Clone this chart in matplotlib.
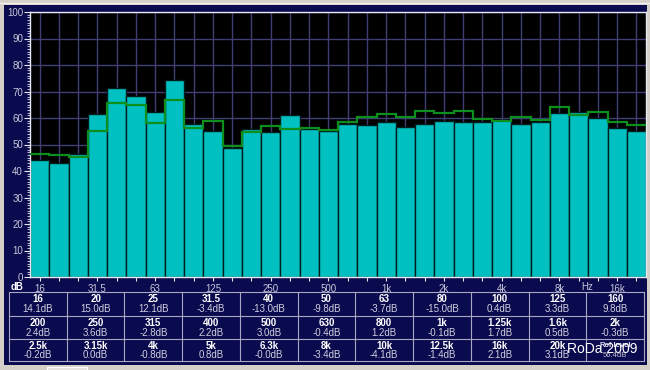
import matplotlib
matplotlib.use('Agg')
import matplotlib.pyplot as plt
import numpy as np
from matplotlib.patches import Rectangle

# ---------------- data ----------------
bands = ['16', '20', '25', '31.5', '40', '50', '63', '80', '100', '125', '160',
         '200', '250', '315', '400', '500', '630', '800', '1k', '1.25k', '1.6k', '2k',
         '2.5k', '3.15k', '4k', '5k', '6.3k', '8k', '10k', '12.5k', '16k', '20k']
level = [44.2, 43.0, 46.3, 61.6, 71.4, 68.3, 62.1, 74.2, 57.7, 55.1, 48.8,
         56.0, 54.7, 61.0, 55.9, 55.0, 57.9, 57.3, 58.6, 56.7, 57.9, 58.9,
         58.6, 58.4, 59.1, 57.6, 58.5, 61.7, 62.3, 60.0, 56.4, 55.2]
target = [46.3, 45.9, 45.2, 55.2, 65.8, 64.8, 58.2, 66.8, 56.3, 59.0, 49.4,
          54.8, 56.8, 55.7, 56.1, 55.3, 58.4, 60.5, 61.5, 60.3, 62.6, 62.0,
          62.8, 59.6, 59.0, 60.4, 59.2, 64.0, 61.1, 62.1, 58.4, 57.2]
eq_db = [14.1, 15.0, 12.1, -3.4, -13.0, -9.8, -3.7, -15.0, 0.4, 3.3, 9.8,
         2.4, 3.6, -2.8, 2.2, 3.0, -0.4, 1.2, -0.1, 1.7, 0.5, -0.3,
         -0.2, 0.0, -0.8, 0.8, -0.0, -3.4, -4.1, -1.4, 2.1, 3.1]
octave_labels = ['16', '31.5', '63', '125', '250', '500', '1k', '2k', '4k', '8k', '16k']
ref_level = 56.4
y_ticks = [0, 10, 20, 30, 40, 50, 60, 70, 80, 90, 100]

# ---------------- figure ----------------
W, H = 650, 370
fig = plt.figure(figsize=(6.5, 3.7), dpi=100, facecolor='#D4D0C8')
FONT = 'Liberation Sans'

bg = fig.add_axes([0, 0, 1, 1])
bg.set_xlim(0, W)
bg.set_ylim(H, 0)
bg.axis('off')
bg.add_patch(Rectangle((4, 5), 643, 360, facecolor='#0A0A4E', edgecolor='none'))
bg.plot([0, W], [2.5, 2.5], color='#F4F2EE', lw=1)
bg.add_patch(Rectangle((47, 366.5), 40, 5, facecolor='#E6E4DE', edgecolor='#FFFFFF', lw=0.8))

ax = fig.add_axes([30 / W, (H - 277) / H, (646 - 30) / W, (277 - 12) / H])
ax.set_facecolor('#000000')
x = np.arange(len(bands))
ax.bar(x, level, width=1.0, color='#00C0C2', edgecolor='#041e1e', linewidth=1.0, zorder=2)
ax.stairs(target, np.arange(len(bands) + 1) - 0.5, color='#0C8F1C', lw=1.6,
          baseline=None, zorder=3)
ax.set_xlim(-0.5, len(bands) - 0.5)
ax.set_ylim(0, 100)

ax.set_xticks(x)
ax.set_xticklabels([b if b in octave_labels else '' for b in bands])
ax.set_yticks(y_ticks)
ax.set_yticks(np.arange(0, 101, 1), minor=True)
ax.set_axisbelow(True)
ax.grid(True, which='major', color='#3E3E74', lw=1.0)
ax.tick_params(axis='x', which='major', direction='out', length=3, width=0.8,
               color='#E8E8F0', labelcolor='#C8C8DC', labelsize=7, pad=2)
ax.tick_params(axis='y', which='major', direction='out', length=4, width=0.8,
               color='#E8E8F0', labelcolor='#C8C8DC', labelsize=7, pad=1)
ax.tick_params(axis='y', which='minor', direction='out', length=2, width=0.6,
               color='#D8D8E8')
ax.tick_params(axis='x', which='minor', bottom=False)
for lab in ax.get_xticklabels() + ax.get_yticklabels():
    lab.set_fontfamily(FONT)
for s in ax.spines.values():
    s.set_color('#E8E8F4')
    s.set_linewidth(1.0)

bg.text(17, 287, 'dB', color='white', fontsize=7, fontweight='bold',
        ha='center', va='center', family=FONT)
bg.text(587, 286.5, 'Hz', color='#C8C8DC', fontsize=7, ha='center', va='center', family=FONT)

# ---------------- table ----------------
x0, x1 = 9, 644
ncol = 11
cw = (x1 - x0) / ncol
rows = [292, 315.5, 338.5, 361]
lc = '#A8A8C4'
for yy in rows:
    bg.plot([x0, x1], [yy, yy], color=lc, lw=0.8)
for c in range(ncol + 1):
    bg.plot([x0 + c * cw, x0 + c * cw], [rows[0], rows[-1]], color=lc, lw=0.8)

for i, b in enumerate(bands):
    r, c = divmod(i, ncol)
    cx = x0 + c * cw + cw / 2
    bg.text(cx, rows[r] + 7.5, b, color='white', fontsize=7, fontweight='bold',
            ha='center', va='center', family=FONT)
    bg.text(cx, rows[r] + 17, f'{eq_db[i]:.1f}dB', color='#D0D0E0', fontsize=7,
            ha='center', va='center', family=FONT)
cx = x0 + 10 * cw + cw / 2
bg.text(cx, rows[2] + 7, 'Ref.level', color='#E0E0F0', fontsize=5.5, fontweight='bold',
        ha='center', va='center', family=FONT)
bg.text(cx, rows[2] + 17, f'{ref_level:.1f}dB', color='#C0C0D4', fontsize=5.5,
        ha='center', va='center', family=FONT)
bg.text(602, 349, 'RoDa 2009', color='white', fontsize=10, ha='center', va='center',
        family=FONT)

fig.savefig('out.png', dpi=100, facecolor=fig.get_facecolor())
